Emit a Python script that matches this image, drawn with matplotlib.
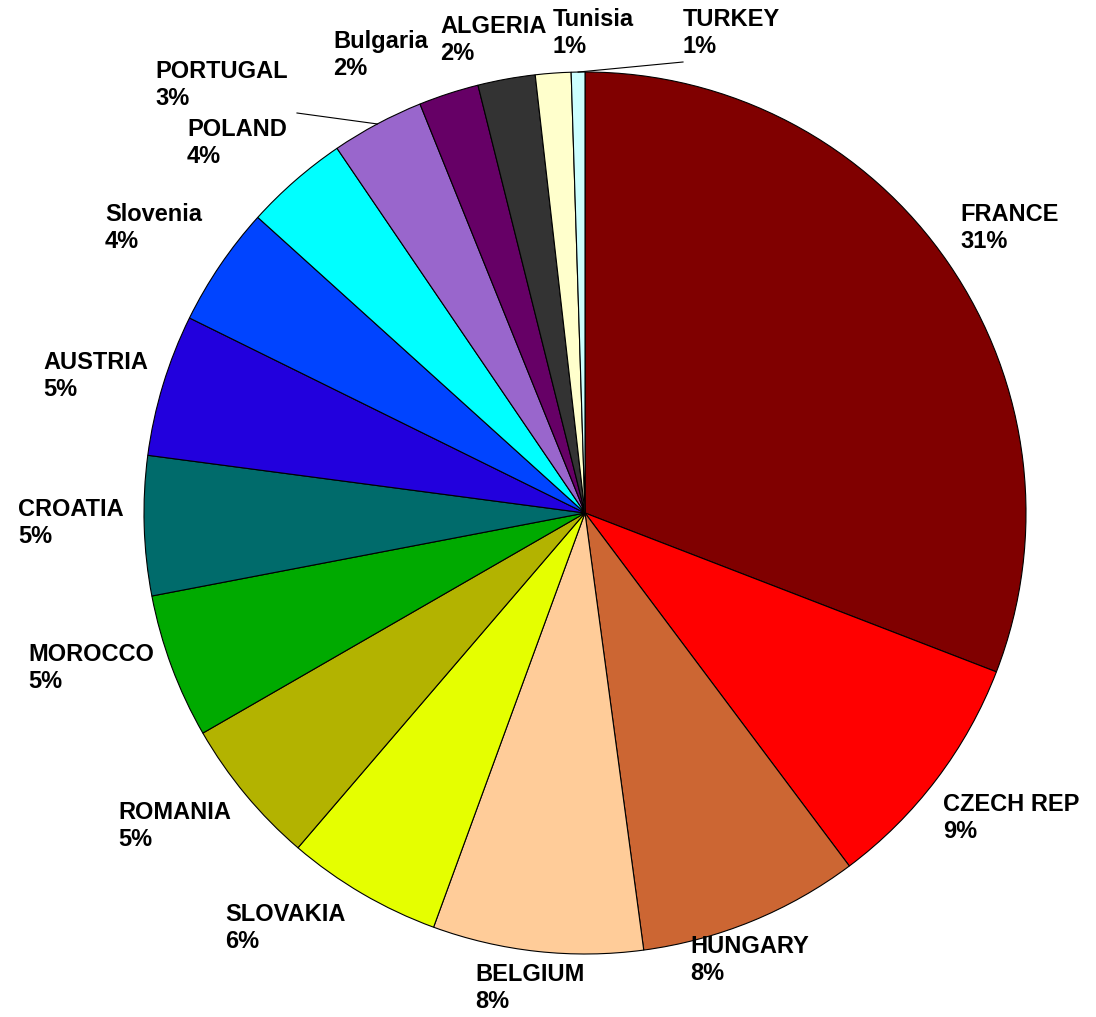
import numpy as np
import matplotlib.pyplot as plt

plt.rcParams['font.family'] = ['Liberation Sans', 'DejaVu Sans']

countries = ["FRANCE", "CZECH REP", "HUNGARY", "BELGIUM", "SLOVAKIA", "ROMANIA",
             "MOROCCO", "CROATIA", "AUSTRIA", "Slovenia", "POLAND", "PORTUGAL",
             "Bulgaria", "ALGERIA", "Tunisia", "TURKEY"]
shares = [30.85, 8.9, 8.1, 7.7, 5.7, 5.4, 5.3, 5.1, 5.2, 4.4, 3.8, 3.4, 2.2, 2.1, 1.3, 0.5]
colors = ["#800000", "#ff0000", "#cc6633", "#ffcc99", "#e5ff00", "#b3b300",
          "#00aa00", "#006b6b", "#2200dd", "#0044ff", "#00ffff", "#9966cc",
          "#660066", "#333333", "#ffffcc", "#ccffff"]

# label boxes (left, top) in pixels, and which ones get a leader line
label_pos = [(960, 203), (943, 793), (690, 935), (475, 963), (225, 903), (118, 801),
             (28, 643), (18, 498), (43, 351), (105, 203), (187, 118), (155, 60),
             (333, 30), (440, 15), (553, 8), (683, 8)]
leaders = {"PORTUGAL": (297, 113), "TURKEY": (683, 62)}

W, H = 1096, 1017
cx, cy, R = 585, 513, 441

fig = plt.figure(figsize=(W / 100, H / 100), dpi=100)
ax = fig.add_axes([0, 0, 1, 1])

# y axis is flipped below, so ccw in data = clockwise on screen, -90 = top
wedges, _ = ax.pie(shares, colors=colors, center=(cx, cy), radius=R,
                   startangle=-90, counterclock=True,
                   wedgeprops=dict(edgecolor="black", linewidth=0.8))

total = sum(shares)
for w, name, v, (lx, ly) in zip(wedges, countries, shares, label_pos):
    pct = int(v / total * 100 + 0.5)
    ax.text(lx, ly, f"{name}\n{pct}%", ha="left", va="top", fontsize=17,
            fontweight="bold", color="black")
    if name in leaders:
        a = np.deg2rad((w.theta1 + w.theta2) / 2)
        px, py = cx + R * np.cos(a), cy + R * np.sin(a)
        ex, ey = leaders[name]
        ax.plot([ex, px], [ey, py], color="black", lw=0.8)

ax.set_xlim(0, W)
ax.set_ylim(H, 0)
ax.set_aspect("equal")
ax.axis("off")

fig.savefig("out.png", dpi=100)
